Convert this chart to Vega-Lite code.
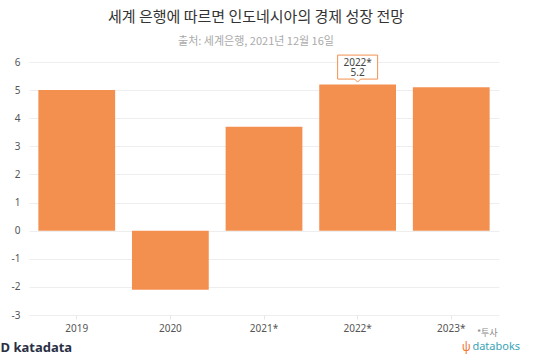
{
  "$schema": "https://vega.github.io/schema/vega-lite/v6.json",
  "autosize": "none",
  "width": 470,
  "height": 253,
  "padding": {"left": 29, "top": 62, "right": 38, "bottom": 45},
  "background": "white",
  "title": {
    "text": "세계 은행에 따르면 인도네시아의 경제 성장 전망",
    "subtitle": "출처: 세계은행, 2021년 12월 16일",
    "anchor": "middle",
    "dx": -8,
    "offset": 6,
    "font": "Noto Sans CJK KR",
    "fontSize": 15,
    "fontWeight": "normal",
    "color": "#333333",
    "subtitleFont": "Noto Sans CJK KR",
    "subtitleFontSize": 11,
    "subtitleColor": "#aaaaaa",
    "subtitlePadding": 11
  },
  "config": {
    "view": {"stroke": null},
    "font": "Noto Sans"
  },
  "data": {
    "values": [
      {"year": "2019", "growth": 5.0},
      {"year": "2020", "growth": -2.1},
      {"year": "2021*", "growth": 3.7},
      {"year": "2022*", "growth": 5.2},
      {"year": "2023*", "growth": 5.1}
    ]
  },
  "encoding": {
    "x": {
      "field": "year",
      "type": "ordinal",
      "sort": null,
      "scale": {"paddingInner": 0.18, "paddingOuter": 0.1},
      "axis": {
        "title": "D katadata",
        "titleAnchor": "start",
        "titleAlign": "left",
        "titleX": -29,
        "titleY": 32,
        "titleBaseline": "middle",
        "titleFont": "Noto Sans",
        "titleFontSize": 13,
        "titleFontWeight": "bold",
        "titleColor": "#2a2f45",
        "labelAngle": 0,
        "labelFontSize": 10,
        "labelColor": "#555555",
        "labelPadding": 4,
        "domain": false,
        "ticks": true,
        "tickSize": 4,
        "tickColor": "#e6e6e6",
        "grid": false
      }
    },
    "y": {
      "field": "growth",
      "type": "quantitative",
      "scale": {"domain": [-3, 6], "nice": false},
      "axis": {
        "title": null,
        "values": [-3, -2, -1, 0, 1, 2, 3, 4, 5, 6],
        "labelExpr": "'' + datum.value",
        "labelOverlap": false,
        "labelFontSize": 10,
        "labelColor": "#555555",
        "labelPadding": 9,
        "domain": false,
        "ticks": false,
        "gridColor": "#eeeeee"
      }
    }
  },
  "layer": [
    {
      "mark": {"type": "bar", "color": "#F39050"}
    },
    {
      "transform": [{"filter": "datum.year === '2022*'"}],
      "mark": {
        "type": "point",
        "shape": "M-1,-0.62L1,-0.62L1,0.58L0.15,0.58L0,0.73L-0.15,0.58L-1,0.58Z",
        "size": 1600,
        "filled": true,
        "fill": "white",
        "stroke": "#F39050",
        "strokeWidth": 1,
        "opacity": 1,
        "yOffset": -17
      }
    },
    {
      "transform": [
        {"filter": "datum.year === '2022*'"},
        {"calculate": "[datum.year, format(datum.growth, '.1f')]", "as": "lbl"}
      ],
      "mark": {
        "type": "text",
        "fontSize": 10,
        "color": "#444444",
        "baseline": "middle",
        "lineHeight": 10,
        "yOffset": -21
      },
      "encoding": {
        "text": {"field": "lbl"}
      }
    },
    {
      "data": {"values": [{"year": "2023*", "growth": -3, "note": "*투사"}]},
      "mark": {"type": "text", "font": "Noto Sans CJK KR", "fontSize": 9, "color": "#888888", "baseline": "middle", "dx": 36, "dy": 18},
      "encoding": {
        "text": {"field": "note"}
      }
    },
    {
      "data": {"values": [{"year": "2023*", "growth": -3, "icon": "ψ"}]},
      "mark": {"type": "text", "fontSize": 12, "color": "#F07a3a", "baseline": "middle", "dx": 15, "dy": 32},
      "encoding": {
        "text": {"field": "icon"}
      }
    },
    {
      "data": {"values": [{"year": "2023*", "growth": -3, "brand": "databoks"}]},
      "mark": {"type": "text", "fontSize": 11, "color": "#3aa3b8", "baseline": "middle", "dx": 45, "dy": 32},
      "encoding": {
        "text": {"field": "brand"}
      }
    }
  ]
}
